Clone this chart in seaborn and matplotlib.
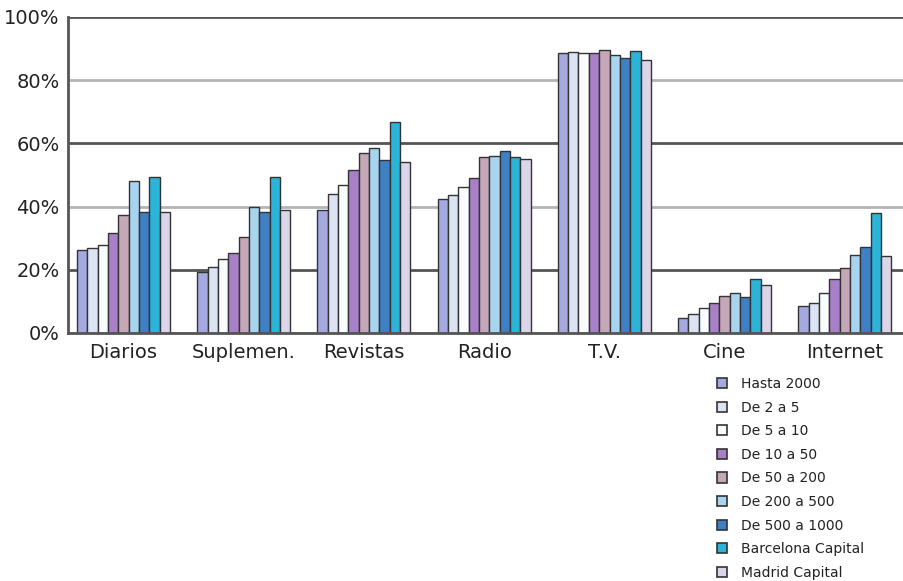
import pandas as pd
import matplotlib
matplotlib.use("Agg")
import matplotlib.pyplot as plt
import seaborn as sns
from matplotlib.patches import Patch

# Medios y tramos de población
medios = ['Diarios', 'Suplemen.', 'Revistas', 'Radio', 'T.V.', 'Cine', 'Internet']
tramos = ['Hasta 2000', 'De 2 a 5', 'De 5 a 10', 'De 10 a 50', 'De 50 a 200',
          'De 200 a 500', 'De 500 a 1000', 'Barcelona Capital', 'Madrid Capital']

# % de audiencia por tramo (un valor por medio)
hasta_2000 = [26.3, 19.4, 38.9, 42.3, 88.7, 4.6, 8.5]
de_2_a_5 = [27.0, 20.8, 43.9, 43.7, 89.0, 6.0, 9.4]
de_5_a_10 = [27.8, 23.3, 46.8, 46.3, 88.7, 8.0, 12.8]
de_10_a_50 = [31.5, 25.4, 51.6, 49.2, 88.7, 9.4, 17.0]
de_50_a_200 = [37.3, 30.5, 56.9, 55.6, 89.6, 11.8, 20.7]
de_200_a_500 = [48.2, 40.0, 58.6, 56.0, 88.0, 12.8, 24.7]
de_500_a_1000 = [38.2, 38.2, 54.7, 57.6, 87.1, 11.3, 27.1]
barcelona = [49.3, 49.3, 66.7, 55.8, 89.3, 17.0, 38.1]
madrid = [38.2, 38.9, 54.2, 55.0, 86.4, 15.2, 24.5]

series = [hasta_2000, de_2_a_5, de_5_a_10, de_10_a_50, de_50_a_200,
          de_200_a_500, de_500_a_1000, barcelona, madrid]

colores = ['#a4aae0', '#dce4f4', '#f8fcff', '#a880c8', '#c4a8b8',
           '#a8d4f0', '#3f80c4', '#2cb4d8', '#dcd4e8']

y_ticks = [0, 20, 40, 60, 80, 100]

# tabla larga para seaborn
filas = []
for tramo, vals in zip(tramos, series):
    for medio, v in zip(medios, vals):
        filas.append({'medio': medio, 'tramo': tramo, 'valor': v})
df = pd.DataFrame(filas)

sns.set_style("white")
plt.rcParams['font.family'] = ['DejaVu Sans']

fig = plt.figure(figsize=(9.04, 5.81), dpi=100)
ax = fig.add_axes([68 / 904, 248 / 581, 1 - 68 / 904, 316 / 581])

sns.barplot(data=df, x='medio', y='valor', hue='tramo', order=medios,
            hue_order=tramos, palette=colores, saturation=1, width=0.774, gap=0,
            edgecolor='#333333', linewidth=1.0, legend=False, ax=ax)

ax.set_xlim(-0.462, 6.493)
ax.set_ylim(0, 100)
ax.set_yticks(y_ticks)
ax.set_yticklabels([f'{t}%' for t in y_ticks])
ax.set_xlabel('')
ax.set_ylabel('')
ax.tick_params(axis='x', length=0, pad=7, labelsize=14, labelcolor='#222222')
ax.tick_params(axis='y', length=0, pad=6, labelsize=14, labelcolor='#222222')

# líneas de división alternas (oscuras / claras)
ax.set_axisbelow(True)
ax.yaxis.grid(True, linewidth=2)
for i, gl in enumerate(ax.get_ygridlines()):
    gl.set_color('#555555' if i % 2 == 1 else '#b4b4b4')
    if y_ticks[i] == 100:
        gl.set_color('#555555')

for s in ['left', 'bottom']:
    ax.spines[s].set_color('#555555')
    ax.spines[s].set_linewidth(2)
ax.spines['top'].set_visible(False)
ax.spines['right'].set_visible(False)

handles = [Patch(facecolor=c, edgecolor='#333333', linewidth=1.2) for c in colores]
fig.legend(handles, tramos, loc='upper left', bbox_to_anchor=(717 / 904, 1 - 377 / 581),
           frameon=False, fontsize=10, handlelength=0.75, handleheight=0.75,
           handletextpad=1.0, labelspacing=0.69, borderpad=0, borderaxespad=0,
           labelcolor='#222222')

fig.savefig('out.png', dpi=100)
